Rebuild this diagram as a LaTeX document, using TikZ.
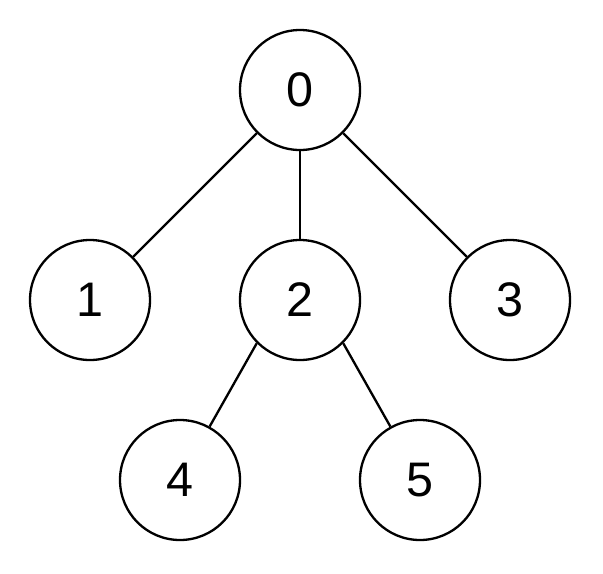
\documentclass[tikz,border=0pt]{standalone}
\usepackage{fontspec}
\setmainfont{Liberation Sans}
\tikzset{vert/.style={draw,circle,line width=1.1pt,minimum size=2cm,inner sep=0pt,font=\fontsize{23}{23}\selectfont}}
\begin{document}
\begin{tikzpicture}[x=1cm,y=-1cm,line width=1.1pt]
				\useasboundingbox(0,0)rectangle(10.05,9.55);
				\node[vert](n0)at(5,1.5){0};
				\node[vert](n1)at(1.5,5){1};
				\node[vert](n2)at(5,5){2};
				\node[vert](n3)at(8.5,5){3};
				\node[vert](n4)at(3,8){4};
				\node[vert](n5)at(7,8){5};
				\draw(n0)--(n1);
				\draw(n0)--(n2);
				\draw(n0)--(n3);
				\draw(n2.225)--(n4.61);
				\draw(n2.315)--(n5.119);
			\end{tikzpicture}
\end{document}
